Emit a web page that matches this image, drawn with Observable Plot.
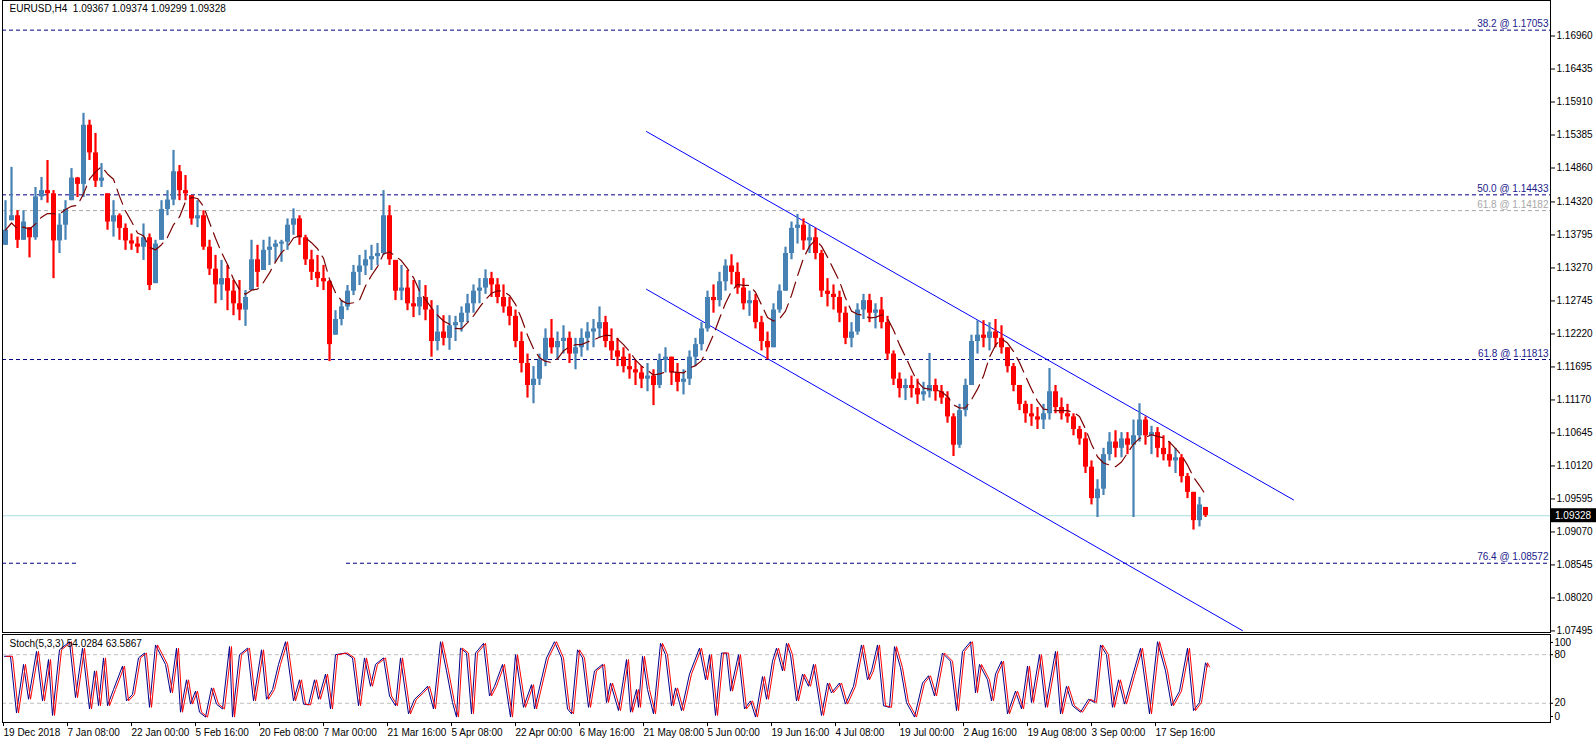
<!DOCTYPE html>
<html><head><meta charset="utf-8">
<script src="https://cdn.jsdelivr.net/npm/d3@7"></script>
<script src="https://cdn.jsdelivr.net/npm/@observablehq/plot@0.6"></script>
<style>
body{margin:0;background:#fff;}
#wrap{position:relative;width:1596px;height:743px;overflow:hidden;}
#wrap svg{display:block;overflow:visible;}
</style></head><body><div id="wrap"></div>
<script>
// ---------- data ----------
const symbolTitle = "EURUSD,H4  1.09367 1.09374 1.09299 1.09328";
const lastPrice = 1.09328;

// one entry per trading day (6 H4 bars)
const dayHigh = [
1.1434,1.1487,1.1418,1.1418,1.1391,1.1455,1.1471,1.1498,1.1450,1.1413,
1.1434,1.1485,1.1471,1.1573,1.1562,1.1541,1.1493,1.1445,1.1434,1.1413,
1.1397,1.1381,1.1376,1.1397,1.1381,1.1371,1.1434,1.1450,1.1514,1.1490,
1.1474,1.1442,1.1434,1.1418,1.1371,1.1347,1.1339,1.1331,1.1307,1.1307,
1.1291,1.1371,1.1363,1.1371,1.1376,1.1371,1.1371,1.1405,1.1421,1.1410,
1.1379,1.1355,1.1347,1.1331,1.1307,1.1259,1.1275,1.1299,1.1331,1.1347,
1.1355,1.1363,1.1366,1.1450,1.1426,1.1339,1.1331,1.1323,1.1307,1.1307,
1.1299,1.1275,1.1267,1.1251,1.1251,1.1250,1.1265,1.1285,1.1300,1.1310,
1.1324,1.1320,1.1310,1.1300,1.1280,1.1260,1.1225,1.1190,1.1170,1.1190,
1.1230,1.1245,1.1225,1.1235,1.1225,1.1215,1.1230,1.1240,1.1245,1.1265,
1.1250,1.1230,1.1215,1.1200,1.1190,1.1180,1.1170,1.1175,1.1165,1.1190,
1.1200,1.1185,1.1175,1.1165,1.1195,1.1215,1.1240,1.1290,1.1300,1.1320,
1.1340,1.1348,1.1335,1.1310,1.1290,1.1285,1.1250,1.1225,1.1270,1.1300,
1.1360,1.1400,1.1412,1.1405,1.1395,1.1390,1.1355,1.1310,1.1300,1.1290,
1.1265,1.1240,1.1270,1.1285,1.1285,1.1270,1.1280,1.1250,1.1195,1.1160,
1.1150,1.1155,1.1150,1.1145,1.1191,1.1150,1.1140,1.1130,1.1095,1.1110,
1.1150,1.1220,1.1243,1.1243,1.1240,1.1245,1.1235,1.1200,1.1175,1.1140,
1.1115,1.1110,1.1105,1.1110,1.1167,1.1140,1.1120,1.1110,1.1095,1.1075,
1.1065,1.1020,1.0990,1.1040,1.1065,1.1068,1.1065,1.1065,1.1085,1.1111,
1.1090,1.1075,1.1073,1.1060,1.1050,1.1040,1.1030,1.1000,1.0970,1.0962,1.0946];
const dayLow = [
1.1363,1.1402,1.1358,1.1371,1.1343,1.1371,1.1434,1.1430,1.1310,1.1350,
1.1371,1.1434,1.1439,1.1439,1.1498,1.1455,1.1455,1.1387,1.1376,1.1371,
1.1355,1.1355,1.1350,1.1339,1.1291,1.1302,1.1371,1.1410,1.1426,1.1434,
1.1434,1.1395,1.1391,1.1355,1.1315,1.1270,1.1275,1.1259,1.1251,1.1243,
1.1234,1.1291,1.1296,1.1323,1.1331,1.1336,1.1336,1.1355,1.1379,1.1363,
1.1331,1.1307,1.1296,1.1291,1.1178,1.1220,1.1235,1.1259,1.1283,1.1299,
1.1315,1.1323,1.1331,1.1347,1.1331,1.1275,1.1275,1.1259,1.1248,1.1251,
1.1243,1.1185,1.1195,1.1203,1.1196,1.1210,1.1225,1.1240,1.1255,1.1270,
1.1285,1.1280,1.1270,1.1255,1.1235,1.1200,1.1160,1.1120,1.1111,1.1140,
1.1170,1.1190,1.1180,1.1190,1.1175,1.1165,1.1185,1.1195,1.1200,1.1215,
1.1200,1.1180,1.1170,1.1160,1.1150,1.1140,1.1135,1.1130,1.1108,1.1135,
1.1160,1.1140,1.1130,1.1125,1.1140,1.1170,1.1195,1.1225,1.1255,1.1265,
1.1290,1.1300,1.1285,1.1260,1.1250,1.1230,1.1195,1.1181,1.1200,1.1255,
1.1290,1.1340,1.1365,1.1355,1.1350,1.1340,1.1280,1.1265,1.1260,1.1240,
1.1205,1.1200,1.1220,1.1245,1.1240,1.1230,1.1230,1.1180,1.1140,1.1120,
1.1116,1.1120,1.1110,1.1115,1.1120,1.1115,1.1110,1.1080,1.1027,1.1040,
1.1090,1.1140,1.1190,1.1200,1.1195,1.1200,1.1190,1.1160,1.1130,1.1100,
1.1080,1.1075,1.1070,1.1070,1.1085,1.1095,1.1085,1.1080,1.1060,1.1045,
1.1000,1.0950,1.0930,1.0965,1.1020,1.1025,1.1025,1.1030,1.0930,1.1050,
1.1045,1.1030,1.1025,1.1020,1.1010,1.1000,1.0985,1.0960,1.0910,1.0915,1.0930];
const dayClose = [
1.1387,1.1410,1.1371,1.1400,1.1375,1.1440,1.1450,1.1445,1.1370,1.1395,
1.1420,1.1470,1.1460,1.1554,1.1510,1.1465,1.1470,1.1400,1.1410,1.1390,
1.1370,1.1365,1.1360,1.1375,1.1299,1.1365,1.1420,1.1435,1.1480,1.1450,
1.1445,1.1405,1.1410,1.1360,1.1325,1.1300,1.1310,1.1290,1.1270,1.1260,
1.1280,1.1340,1.1320,1.1355,1.1360,1.1365,1.1368,1.1395,1.1405,1.1375,
1.1340,1.1320,1.1310,1.1305,1.1205,1.1245,1.1265,1.1290,1.1320,1.1330,
1.1340,1.1345,1.1350,1.1410,1.1340,1.1290,1.1295,1.1270,1.1265,1.1280,
1.1260,1.1210,1.1225,1.1215,1.1235,1.1240,1.1255,1.1270,1.1290,1.1295,
1.1310,1.1300,1.1280,1.1265,1.1250,1.1210,1.1175,1.1140,1.1150,1.1180,
1.1215,1.1200,1.1210,1.1215,1.1190,1.1200,1.1215,1.1225,1.1230,1.1240,
1.1210,1.1195,1.1185,1.1170,1.1165,1.1160,1.1150,1.1155,1.1140,1.1180,
1.1185,1.1160,1.1145,1.1150,1.1185,1.1205,1.1230,1.1280,1.1275,1.1305,
1.1330,1.1320,1.1295,1.1270,1.1275,1.1240,1.1210,1.1200,1.1260,1.1290,
1.1350,1.1390,1.1395,1.1370,1.1375,1.1350,1.1290,1.1285,1.1280,1.1255,
1.1215,1.1225,1.1260,1.1275,1.1255,1.1260,1.1240,1.1190,1.1150,1.1135,
1.1140,1.1135,1.1125,1.1130,1.1140,1.1130,1.1120,1.1090,1.1045,1.1100,
1.1140,1.1210,1.1220,1.1215,1.1225,1.1215,1.1200,1.1170,1.1140,1.1110,
1.1095,1.1090,1.1085,1.1095,1.1130,1.1105,1.1095,1.1090,1.1070,1.1055,
1.1010,1.0960,1.0975,1.1030,1.1050,1.1040,1.1055,1.1045,1.1060,1.1085,
1.1060,1.1065,1.1040,1.1030,1.1020,1.1025,1.0995,1.0970,1.0925,1.0950,1.0933];

const fibLevels = [1.17053, 1.14433, 1.14182, 1.11813, 1.08572];
const fibNames  = ["38.2", "50.0", "61.8", "61.8", "76.4"];
const fibMuted  = [false, false, true, false, false];
// visible stretches of each level line, in bar units (76.4 is partly hidden in the picture)
const fibSpans  = [[[-1, 1547]], [[-1, 1547]], [[-1, 1547]], [[-1, 1547]], [[-1, 73], [343, 1547]]];

// trend channel anchor points: [bar index, price]
const channelUpper = [[643, 1.1544], [1290, 1.0958]];
const channelLower = [[643, 1.1293], [1239, 1.0750]];

const priceTicks = [1.16960,1.16435,1.15910,1.15385,1.14860,1.14320,1.13795,1.13270,1.12745,
  1.12220,1.11695,1.11170,1.10645,1.10120,1.09595,1.09070,1.08545,1.08020,1.07495];

const dateTickBars = [0,64,128,192,256,320,384,448,512,576,640,704,768,832,896,960,1024,1088,1152];
const dateTickLabels = ["19 Dec 2018","7 Jan 08:00","22 Jan 00:00","5 Feb 16:00","20 Feb 08:00",
  "7 Mar 00:00","21 Mar 16:00","5 Apr 08:00","22 Apr 00:00","6 May 16:00","21 May 08:00",
  "5 Jun 00:00","19 Jun 16:00","4 Jul 08:00","19 Jul 00:00","2 Aug 16:00","19 Aug 08:00",
  "3 Sep 00:00","17 Sep 16:00"];

const stochLabel = "Stoch(5,3,3) 54.0284 63.5867";
const stochBars = [1,7,13,20,25,33,39,45,49,56,66,72,79,86,91,95,100,104,110,119,123,129,135,141,146,152,
  162,167,173,177,183,187,192,196,202,208,213,219,226,229,236,244,250,258,263,269,275,282,290,296,300,
  305,311,315,322,327,332,342,349,355,361,367,372,380,386,392,397,405,411,418,424,430,437,443,449,453,
  457,463,468,472,480,486,491,499,507,512,520,528,531,543,551,558,564,568,574,579,585,591,
  599,603,607,615,623,627,633,635,639,644,650,657,662,668,672,678,686,696,702,706,712,718,723,727,735,
  741,747,752,759,763,769,773,779,783,787,793,799,805,810,818,824,828,836,842,850,858,864,868,874,880,
  886,891,897,903,911,919,925,931,939,947,953,959,967,972,976,984,988,992,998,1004,1012,1018,1024,1028,
  1036,1042,1052,1057,1063,1069,1077,1085,1091,1097,1103,1109,1115,1121,1129,1137,1146,1154,1162,1168,
  1176,1184,1190,1196,1202,1204];
const stochK = [78,78,8,68,25,84,23,74,5,86,96,27,88,13,60,17,76,17,37,66,23,31,76,82,15,92,
  68,33,88,9,49,19,35,9,3,39,19,13,90,3,80,88,23,86,25,37,68,96,23,49,19,
  18,49,25,56,13,80,82,76,17,76,41,68,76,29,17,76,7,25,33,41,13,96,60,21,3,
  88,82,7,82,94,29,41,68,3,80,15,43,13,76,96,76,13,7,86,76,15,60,
  68,21,45,11,74,9,37,15,78,37,7,94,80,17,39,11,56,88,49,80,5,82,82,35,80,
  13,23,3,53,25,72,88,60,94,80,23,56,41,68,5,45,33,45,19,41,92,49,60,92,17,
  15,90,64,21,3,45,54,29,82,72,11,84,96,33,68,49,23,56,72,7,35,13,66,21,
  80,15,84,7,41,17,9,25,21,92,80,15,49,19,54,88,7,96,60,17,
  35,88,11,21,70,65];
const stochLevels = [20, 80];
const stochInnerTicks = [20, 80];
const stochTopTick = [100];
const stochBottomTick = [0];

// ---------- build ----------
const days = dayHigh.map((h, i) => {
  const op = i === 0 ? dayLow[0] : dayClose[i - 1];
  const cl = dayClose[i];
  return {bar: 6 * i + 2, hi: h, lo: dayLow[i], op, cl, up: cl >= op,
    b1: Math.max(Math.min(op, cl), dayLow[i]), b2: Math.min(Math.max(op, cl), h)};
});
const stochPts = stochBars.map((b, i) => ({bar: b, k: stochK[i]}));
const fibs = fibLevels.map((v, i) => ({v, name: fibNames[i], muted: fibMuted[i]}));
const fibSegs = fibs.flatMap((f, i) => fibSpans[i].map(([a, b]) => ({...f, a, b})));
const dateLabel = new Map(dateTickBars.map((b, i) => [b, dateTickLabels[i]]));
const chan = [
  ...channelUpper.map(([b, p]) => ({bar: b, p, line: "u"})),
  ...channelLower.map(([b, p]) => ({bar: b, p, line: "l"}))
];

const FONT = "'Liberation Sans', Arial, sans-serif";
const FS = "10px";
const xDomain = [-1, 1547];
const W = 1596;
const barColor = d => d.up ? "#4682b4" : "#ff0000";

const main = Plot.plot({
  width: W, height: 633,
  marginLeft: 2, marginRight: 46, marginTop: 0, marginBottom: 1,
  style: {fontFamily: FONT, fontSize: FS, color: "#000", background: "#fff", overflow: "visible"},
  x: {domain: xDomain, axis: null, label: null},
  y: {domain: [1.074702, 1.175248], label: null},
  marks: [
    Plot.ruleY(fibSegs, {y: "v", x1: "a", x2: "b", stroke: d => d.muted ? "#a8a8a8" : "#000080", strokeDasharray: "4,3", strokeWidth: 1}),
    Plot.ruleY([lastPrice], {stroke: "#a8dede", strokeWidth: 1}),
    Plot.line(chan, {x: "bar", y: "p", z: "line", stroke: "#0000ff", strokeWidth: 1, clip: true}),
    Plot.ruleX(days, {x: "bar", y1: "lo", y2: "hi", stroke: barColor, strokeWidth: 2.2}),
    Plot.ruleX(days, {x: "bar", y1: "b1", y2: "b2", stroke: barColor, strokeWidth: 5}),
    Plot.lineY(days, Plot.windowY({k: 6, anchor: "end"}, {x: "bar", y: "cl", stroke: "#7a0000", strokeWidth: 1.2, strokeDasharray: "16,7"})),
    Plot.text(fibs, {y: "v", text: d => `${d.name} @ ${d.v.toFixed(5)}`, frameAnchor: "right", textAnchor: "end", dx: -2, dy: -6,
      fill: d => d.muted ? "#a8a8a8" : "#1a1a8c"}),
    Plot.text([symbolTitle], {frameAnchor: "top-left", textAnchor: "start", lineAnchor: "top", dx: 7, dy: 4, fill: "#000"}),
    Plot.axisY(priceTicks, {anchor: "right", label: null, tickFormat: d => d.toFixed(5), tickSize: 4, tickPadding: 2, stroke: "#000"}),
    Plot.frame({stroke: "#000"})
  ]
});

const stoch = Plot.plot({
  width: W, height: 110,
  marginLeft: 2, marginRight: 46, marginTop: 1, marginBottom: 21,
  style: {fontFamily: FONT, fontSize: FS, color: "#000", background: "none"},
  x: {domain: xDomain, label: null},
  y: {domain: [-3.7, 104.9], label: null},
  marks: [
    Plot.ruleY(stochLevels, {stroke: "#c0c0c0", strokeDasharray: "4,3"}),
    Plot.line(stochPts, {x: "bar", y: "k", stroke: "#00008b", strokeWidth: 1}),
    Plot.line(stochPts, {x: "bar", y: "k", stroke: "#ff0000", strokeWidth: 1, dx: 2}),
    Plot.text([stochLabel], {frameAnchor: "top-left", textAnchor: "start", lineAnchor: "top", dx: 7, dy: 5, fill: "#000"}),
    Plot.axisY(stochInnerTicks, {anchor: "right", label: null, tickSize: 2, tickPadding: 2}),
    Plot.axisY(stochTopTick, {anchor: "right", label: null, tickSize: 2, tickPadding: 2, dy: 4}),
    Plot.axisY(stochBottomTick, {anchor: "right", label: null, tickSize: 2, tickPadding: 2, dy: -3}),
    Plot.axisX(dateTickBars, {anchor: "bottom", label: null, tickFormat: d => dateLabel.get(d), textAnchor: "start", tickSize: 4, tickPadding: 2}),
    Plot.frame({stroke: "#000"})
  ]
});

const wrap = document.getElementById("wrap");
wrap.appendChild(main);
wrap.appendChild(stoch);

// current price tag on the price axis
const yPos = main.scale("y").apply(lastPrice);
const g = d3.select(main).append("g");
g.append("rect").attr("x", 1551).attr("y", yPos - 7).attr("width", 45).attr("height", 14).style("fill", "#000").style("stroke", "none");
g.append("text").attr("x", 1555).attr("y", yPos).attr("dy", "0.35em")
  .style("fill", "#fff").style("text-anchor", "start").style("font-family", FONT).style("font-size", FS)
  .text(lastPrice.toFixed(5));
</script></body></html>
